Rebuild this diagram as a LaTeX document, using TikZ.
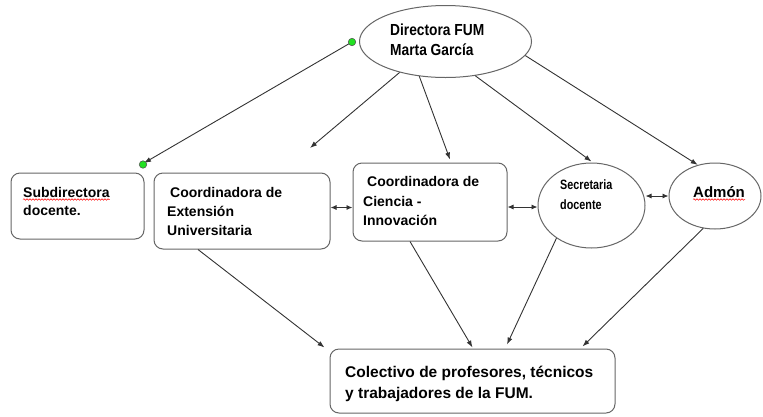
\documentclass[tikz,border=0pt]{standalone}
\usepackage{fontspec}
\setmainfont{Liberation Sans}
\newfontfamily\narrowA[FakeStretch=0.86,UprightFont=* Bold]{Liberation Sans}
\newfontfamily\narrowB[FakeStretch=0.80,UprightFont=* Bold]{Liberation Sans}
\usetikzlibrary{arrows.meta,calc,shapes.geometric,decorations.pathmorphing}
\definecolor{dotgreen}{HTML}{22E022}
\begin{document}
\begin{tikzpicture}[x=1pt,y=-1pt,
 box/.style={draw=black!60,line width=1pt,rounded corners=9pt,inner sep=0pt,fill=white},
 oval/.style={ellipse,draw=black!60,line width=1pt,inner sep=0pt,fill=white},
 lbl/.style={anchor=base west,inner sep=0pt,font=\bfseries\fontsize{14}{17}\selectfont},
 conn/.style={draw=black!80,line width=0.9pt,-{Latex[length=7pt,width=5pt]}},
 both/.style={draw=black!80,line width=0.9pt,{Latex[length=6pt,width=5pt]}-{Latex[length=6pt,width=5pt]}},
 dot/.style={circle,draw=black!70,line width=0.5pt,fill=dotgreen,minimum size=7.5pt,inner sep=0pt},
 squig/.style={draw=red,line width=0.5pt,decorate,decoration={snake,amplitude=0.8pt,segment length=3pt}}]
\useasboundingbox (0,0) rectangle (763,416);

% shapes
\node[oval,minimum width=172pt,minimum height=72pt] (dir) at (445.5,41.5) {};
\node[box,minimum width=133pt,minimum height=66pt] (sub) at (77.5,206) {};
\node[box,minimum width=176pt,minimum height=76pt] (ext) at (242,211) {};
\node[box,minimum width=154pt,minimum height=78pt] (cien) at (430,202) {};
\node[oval,minimum width=107pt,minimum height=85pt] (sec) at (591.5,205.5) {};
\node[oval,minimum width=92pt,minimum height=66pt] (adm) at (715,196) {};
\node[box,minimum width=285pt,minimum height=64pt] (col) at (472.5,381) {};

% texts
\node[lbl,font=\narrowA\fontsize{16}{19}\selectfont] (tdir1) at (390,35) {Directora FUM};
\node[lbl,font=\narrowA\fontsize{16}{19}\selectfont] (tdir2) at (390,55) {Marta García};
\node[lbl] (tsub1) at (23,197) {Subdirectora};
\node[lbl] (tsub2) at (23,215) {docente.};
\node[lbl] (text1) at (170,197) {Coordinadora de};
\node[lbl] (text2) at (167,216) {Extensión};
\node[lbl] (text3) at (167,235) {Universitaria};
\node[lbl] (tcie1) at (367,186) {Coordinadora de};
\node[lbl] (tcie2) at (363,206) {Ciencia -};
\node[lbl] (tcie3) at (363,225) {Innovación};
\node[lbl,font=\narrowB\fontsize{13.5}{16}\selectfont] (tsec1) at (560,189) {Secretaria};
\node[lbl,font=\narrowB\fontsize{13.5}{16}\selectfont] (tsec2) at (560,209) {docente};
\node[lbl,font=\bfseries\fontsize{15}{18}\selectfont] (tadm) at (693,197) {Admón};
\node[lbl,font=\bfseries\fontsize{15.5}{19}\selectfont] (tcol1) at (345,377) {Colectivo de profesores, técnicos};
\node[lbl,font=\bfseries\fontsize{15.5}{19}\selectfont] (tcol2) at (345,398) {y trabajadores de la FUM.};

% spell-check squiggles
\draw[squig] ([yshift=-2.5pt]tsub1.base west) -- ([yshift=-2.5pt]tsub1.base east);
\draw[squig] ([yshift=-2.5pt]tadm.base west) -- ([yshift=-2.5pt]tadm.base east);

% connectors from the director
\coordinate (free) at (310,148);
\draw[conn] (dir.214) -- (free);
\draw[conn] (dir.233) -- ([xshift=20pt,yshift=3pt]cien.north);
\draw[conn] (dir.311) -- ([yshift=1pt]sec.north);
\draw[conn] (dir.350) -- (adm.119);

% green-dot connector
\coordinate (p1) at (352,42);
\coordinate (p2) at (144,163);
\draw[conn] (p1) -- (p2);
\node[dot] (g1) at (p1) {};
\node[dot] (g2) at (143,164.5) {};

% double arrows
\draw[both] ([yshift=3.5pt]ext.east) -- ([yshift=3.5pt]ext.east -| cien.west);
\draw[both] ([yshift=-1.5pt]cien.east |- sec.west) -- ([yshift=-1.5pt]sec.west);
\draw[both] (sec.east |- adm.west) -- (adm.west);

% to the collective
\draw[conn] ([xshift=-44pt]ext.south) -- ([xshift=-5pt,yshift=1pt]col.north west);
\draw[conn] ([xshift=-20pt]cien.south) -- ([yshift=1pt]col.north);
\draw[conn] (sec.223) -- ([xshift=34.5pt,yshift=4pt]col.north);
\draw[conn] (adm.250) -- ([xshift=110pt,yshift=2pt]col.north);
\end{tikzpicture}
\end{document}
